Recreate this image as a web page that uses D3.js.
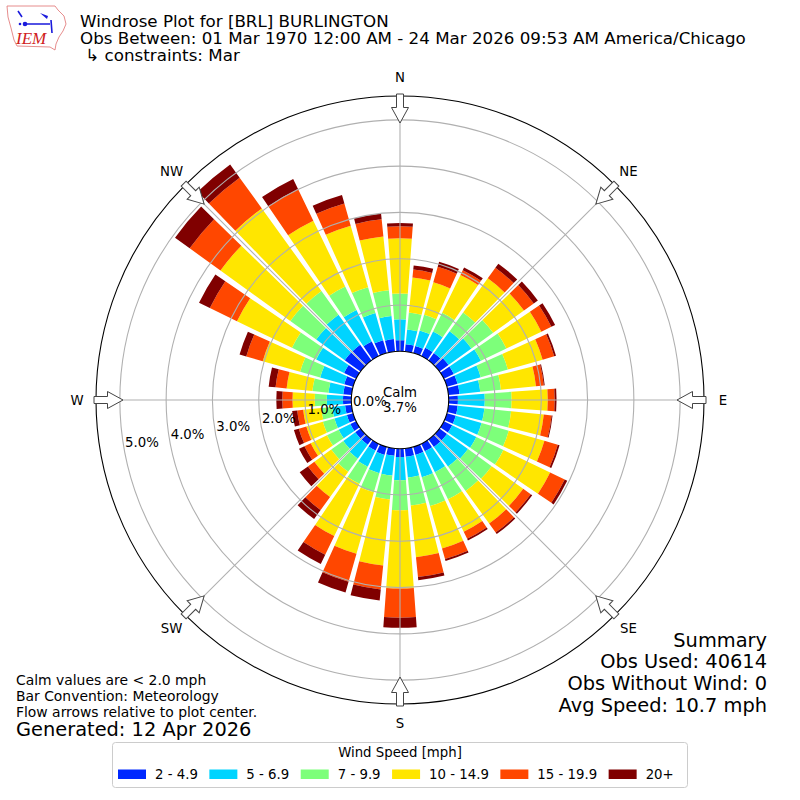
<!DOCTYPE html>
<html>
<head>
<meta charset="utf-8">
<script src="https://cdn.jsdelivr.net/npm/d3@7"></script>
<style>
  body { margin: 0; background: #fff; }
  svg { display: block; font-family: "DejaVu Sans", sans-serif; }
</style>
</head>
<body>
<script>
// wind directions (deg, meteorological) and speed bins
var directions = d3.range(0, 360, 10);
var speedBins = ["2 - 4.9", "5 - 6.9", "7 - 9.9", "10 - 14.9", "15 - 19.9", "20+"];
var binColors = ["#0028ff", "#00d4ff", "#7dff7a", "#ffe600", "#ff4700", "#800000"];

// percent of obs per direction, one array per speed bin
var bin2to5 = [0.24, 0.16, 0.16, 0.20, 0.20, 0.24, 0.24, 0.24, 0.24, 0.20, 0.20, 0.20,
               0.20, 0.20, 0.20, 0.18, 0.18, 0.18, 0.18, 0.16, 0.18, 0.16, 0.14, 0.14,
               0.14, 0.14, 0.14, 0.18, 0.18, 0.20, 0.29, 0.42, 0.42, 0.35, 0.29, 0.27];
var bin5to7 = [0.45, 0.32, 0.35, 0.39, 0.58, 0.61, 0.65, 0.52, 0.45, 0.58, 0.58, 0.58,
               0.58, 0.56, 0.52, 0.50, 0.50, 0.45, 0.50, 0.43, 0.41, 0.39, 0.37, 0.32,
               0.28, 0.28, 0.28, 0.35, 0.32, 0.54, 0.67, 0.76, 0.80, 0.76, 0.61, 0.50];
var bin7to10 = [0.56, 0.37, 0.35, 0.45, 0.50, 0.58, 0.61, 0.61, 0.45, 0.58, 0.58, 0.61,
                0.65, 0.63, 0.65, 0.65, 0.65, 0.61, 0.65, 0.52, 0.43, 0.41, 0.35, 0.32,
                0.28, 0.26, 0.24, 0.26, 0.35, 0.45, 0.58, 0.69, 0.63, 0.56, 0.58, 0.56];
var bin10to15 = [1.19, 0.76, 0.73, 0.91, 0.91, 0.82, 0.84, 0.78, 0.76, 0.78, 0.71, 0.80,
                 1.12, 0.84, 0.87, 0.78, 0.95, 1.12, 1.69, 1.43, 1.38, 1.25, 0.67, 0.45,
                 0.39, 0.37, 0.39, 0.48, 0.56, 0.84, 1.32, 1.86, 2.20, 1.58, 1.38, 1.17];
var bin15to20 = [0.26, 0.17, 0.35, 0.11, 0.28, 0.26, 0.24, 0.26, 0.17, 0.15, 0.17, 0.30,
                 0.35, 0.20, 0.24, 0.17, 0.24, 0.43, 0.63, 0.52, 0.63, 0.45, 0.35, 0.17,
                 0.15, 0.17, 0.13, 0.22, 0.24, 0.37, 0.65, 0.82, 0.82, 0.76, 0.50, 0.37];
var bin20plus = [0.07, 0.09, 0.11, 0.07, 0.11, 0.11, 0.09, 0.04, 0.02, 0.04, 0.02, 0.04,
                 0.06, 0.04, 0.04, 0.04, 0.04, 0.07, 0.22, 0.24, 0.24, 0.22, 0.24, 0.22,
                 0.13, 0.11, 0.11, 0.13, 0.15, 0.15, 0.26, 0.39, 0.35, 0.24, 0.19, 0.13];

var calmPct = 3.7;
var ringTicks = [0, 1, 2, 3, 4, 5];
var compass = ["N", "NE", "E", "SE", "S", "SW", "W", "NW"];

var titleLines = ["Windrose Plot for [BRL] BURLINGTON",
                  "Obs Between: 01 Mar 1970 12:00 AM - 24 Mar 2026 09:53 AM America/Chicago",
                  " \u21b3 constraints: Mar"];
var noteLines = ["Calm values are < 2.0 mph", "Bar Convention: Meteorology",
                 "Flow arrows relative to plot center."];
var generated = "Generated: 12 Apr 2026";
var summaryLines = ["Summary", "Obs Used: 40614", "Obs Without Wind: 0", "Avg Speed: 10.7 mph"];

var cx = 400, cy = 400, calmR = 48.7, outerR = 304;
var rad = function(d) { return d * Math.PI / 180; };

var svg = d3.select("body").append("svg")
    .attr("width", 800).attr("height", 800);

var r = d3.scaleLinear().domain([0, 5.515]).range([calmR, outerR]);

var keys = ["b0", "b1", "b2", "b3", "b4", "b5"];
var bins = [bin2to5, bin5to7, bin7to10, bin10to15, bin15to20, bin20plus];
var rows = directions.map(function(d, i) {
  var row = { dir: d };
  keys.forEach(function(k, j) { row[k] = bins[j][i]; });
  return row;
});
var series = d3.stack().keys(keys)(rows);

var plot = svg.append("g").attr("transform", "translate(" + cx + "," + cy + ")");

// outer frame
plot.append("circle").attr("r", outerR)
    .attr("fill", "none").attr("stroke", "#000").attr("stroke-width", 1.1);

// bars
var half = rad(4.2);
var arc = d3.arc()
    .innerRadius(function(d) { return r(d[0]); })
    .outerRadius(function(d) { return r(d[1]); })
    .startAngle(function(d) { return rad(d.data.dir) - half; })
    .endAngle(function(d) { return rad(d.data.dir) + half; });

plot.selectAll("g.bin")
  .data(series)
  .enter().append("g")
    .attr("class", "bin")
    .attr("fill", function(d, i) { return binColors[i]; })
  .selectAll("path")
  .data(function(d) { return d; })
  .enter().append("path")
    .attr("d", arc);

// grid on top of the bars
plot.selectAll("circle.ring")
  .data(ringTicks.filter(function(t) { return t > 0; }))
  .enter().append("circle")
    .attr("class", "ring")
    .attr("r", function(d) { return r(d); })
    .attr("fill", "none").attr("stroke", "#b0b0b0").attr("stroke-width", 1.1);

plot.selectAll("line.spoke")
  .data(compass)
  .enter().append("line")
    .attr("class", "spoke")
    .attr("x1", function(d, i) { return calmR * Math.sin(rad(i * 45)); })
    .attr("y1", function(d, i) { return -calmR * Math.cos(rad(i * 45)); })
    .attr("x2", function(d, i) { return outerR * Math.sin(rad(i * 45)); })
    .attr("y2", function(d, i) { return -outerR * Math.cos(rad(i * 45)); })
    .attr("stroke", "#b0b0b0").attr("stroke-width", 1.1);

// calm circle
plot.append("circle").attr("r", calmR)
    .attr("fill", "#fff").attr("stroke", "#000").attr("stroke-width", 1.1);
plot.append("text").attr("y", -3).attr("text-anchor", "middle")
    .style("font-size", "13.3px").text("Calm");
plot.append("text").attr("y", 12).attr("text-anchor", "middle")
    .style("font-size", "13.3px").text(calmPct.toFixed(1) + "%");

// ring labels
var lblAng = rad(10);
plot.selectAll("text.rlabel")
  .data(ringTicks)
  .enter().append("text")
    .attr("class", "rlabel")
    .attr("x", function(d) { return -r(d) * Math.cos(lblAng) + 1; })
    .attr("y", function(d) { return r(d) * Math.sin(lblAng) - 2; })
    .style("font-size", "13.3px")
    .text(function(d) { return d.toFixed(1) + "%"; });

// flow arrows pointing to the center
var arrowPath = "M-3.5,-306L3.5,-306L3.5,-292.5L8.5,-292.5L0,-277L-8.5,-292.5L-3.5,-292.5Z";
plot.selectAll("path.arrow")
  .data(compass)
  .enter().append("path")
    .attr("class", "arrow")
    .attr("d", arrowPath)
    .attr("transform", function(d, i) { return "rotate(" + (i * 45) + ")"; })
    .attr("fill", "#fff").attr("stroke", "#444").attr("stroke-width", 1);

// compass labels
plot.selectAll("text.dir")
  .data(compass)
  .enter().append("text")
    .attr("class", "dir")
    .attr("x", function(d, i) { return 323 * Math.sin(rad(i * 45)); })
    .attr("y", function(d, i) { return -323 * Math.cos(rad(i * 45)); })
    .attr("text-anchor", "middle").attr("dominant-baseline", "central")
    .style("font-size", "13.3px")
    .text(function(d) { return d; });

// title
svg.selectAll("text.title")
  .data(titleLines)
  .enter().append("text")
    .attr("class", "title")
    .attr("x", 80)
    .attr("y", function(d, i) { return 26.5 + i * 17.3; })
    .style("font-size", "16.7px")
    .style("white-space", "pre")
    .text(function(d) { return d; });

// IEM logo (rough)
var logo = svg.append("g");
logo.append("path")
    .attr("d", "M7,6L55,6L58,10L64,16L66,24L63,31L59,37L56,44L55,50L50,47L17,46L14,40L11,28L8,17Z")
    .attr("fill", "none").attr("stroke", "#e07070").attr("stroke-width", 0.8);
logo.append("path")
    .attr("d", "M24,24L50,24M18,11L22,17M51,20L52,33")
    .attr("stroke", "#1a1adc").attr("stroke-width", 1.6).attr("fill", "none");
logo.append("path")
    .attr("d", "M40,13L48,16L47,19Z")
    .attr("fill", "#1a1adc");
logo.append("circle").attr("cx", 25).attr("cy", 24).attr("r", 2.3).attr("fill", "#1a1adc");
logo.append("circle").attr("cx", 20).attr("cy", 24).attr("r", 1.3).attr("fill", "#1a1adc");
logo.append("text").attr("x", 16).attr("y", 44)
    .style("font-family", "'Liberation Serif', serif").style("font-style", "italic")
    .style("font-size", "17px").attr("fill", "#d02020").text("IEM");

// notes bottom left
svg.selectAll("text.note")
  .data(noteLines)
  .enter().append("text")
    .attr("class", "note")
    .attr("x", 16)
    .attr("y", function(d, i) { return 685 + i * 16; })
    .style("font-size", "13.9px")
    .text(function(d) { return d; });
svg.append("text").attr("x", 16).attr("y", 736)
    .style("font-size", "19.4px").text(generated);

// summary bottom right
svg.selectAll("text.summary")
  .data(summaryLines)
  .enter().append("text")
    .attr("class", "summary")
    .attr("x", 767)
    .attr("y", function(d, i) { return 646.5 + i * 21.7; })
    .attr("text-anchor", "end")
    .style("font-size", "19.4px")
    .text(function(d) { return d; });

// legend
var legend = svg.append("g");
legend.append("rect")
    .attr("x", 112.5).attr("y", 742.5).attr("width", 575).attr("height", 45).attr("rx", 3)
    .attr("fill", "#fff").attr("stroke", "#cccccc").attr("stroke-width", 1);
legend.append("text").attr("x", 400).attr("y", 757).attr("text-anchor", "middle")
    .style("font-size", "13.3px").text("Wind Speed [mph]");

var lx = 118;
speedBins.forEach(function(label, i) {
  legend.append("rect")
      .attr("x", lx).attr("y", 769.5).attr("width", 28).attr("height", 9.5)
      .attr("fill", binColors[i]);
  var t = legend.append("text")
      .attr("x", lx + 37).attr("y", 778.5)
      .style("font-size", "13.3px").text(label);
  lx += 37 + t.node().getComputedTextLength() + 11.5;
});
</script>
</body>
</html>
